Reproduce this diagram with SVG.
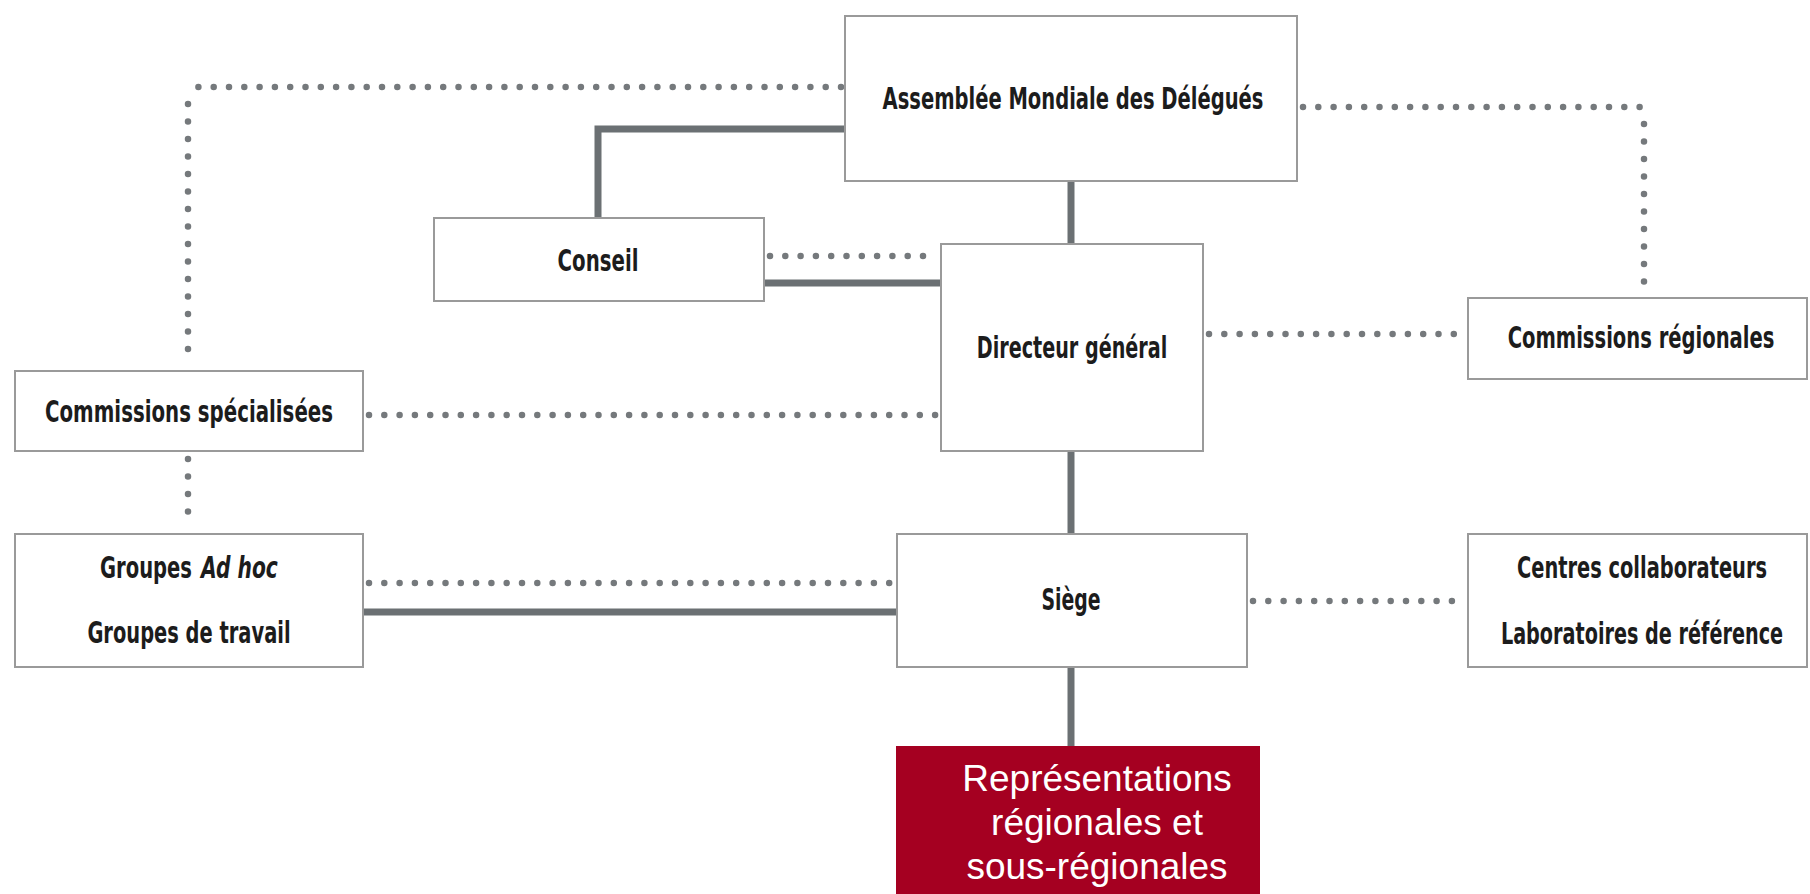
<svg xmlns="http://www.w3.org/2000/svg" width="1810" height="894" viewBox="0 0 1810 894">
<style>
.box{fill:#fff;stroke:#9a9a9a;stroke-width:2}
.lbl{font-family:"DejaVu Sans Condensed","Liberation Sans",sans-serif;font-stretch:condensed;font-weight:bold;font-size:30px;fill:#1c1c1c;text-anchor:middle}
.big{font-size:31px}
.st{text-anchor:start}
.solid{fill:none;stroke:#6b7073;stroke-width:7}
.dotH{fill:none;stroke:#75797c;stroke-width:6.5;stroke-linecap:round;stroke-dasharray:0 15.3}
.dotV{fill:none;stroke:#75797c;stroke-width:6.5;stroke-linecap:round;stroke-dasharray:0 17.5}
.red{fill:#a50021}
.rt{font-family:"Liberation Sans",Arial,sans-serif;font-size:37px;fill:#fff;text-anchor:middle}
</style>
<rect width="1810" height="894" fill="#fff"/>
<g id="connectors">
<path class="solid" d="M845,129 H598 V218"/>
<path class="solid" d="M1071,181 V244"/>
<path class="solid" d="M764,283 H941"/>
<path class="solid" d="M1071,451 V534"/>
<path class="solid" d="M363,612 H897"/>
<path class="solid" d="M1071,667 V746"/>
<path class="dotH" d="M841,87 H188"/>
<path class="dotV" d="M188,104 V362"/>
<path class="dotH" d="M1303,107 H1644"/>
<path class="dotV" d="M1644,124 V292"/>
<path class="dotH" d="M770,256 H937"/>
<path class="dotH" d="M1209,334 H1466"/>
<path class="dotH" d="M369,415 H937"/>
<path class="dotV" d="M188,459 V522"/>
<path class="dotH" d="M369,583 H893"/>
<path class="dotH" d="M1253,601 H1466"/>
</g>
<g id="assemblee">
<rect class="box" x="845" y="16" width="452" height="165"/>
<text class="lbl big" transform="translate(1073,109) scale(0.8,1)" textLength="476" lengthAdjust="spacingAndGlyphs">Assemblée Mondiale des Délégués</text>
</g>
<g id="conseil">
<rect class="box" x="434" y="218" width="330" height="83"/>
<text class="lbl big" transform="translate(598,271) scale(0.8,1)" textLength="101" lengthAdjust="spacingAndGlyphs">Conseil</text>
</g>
<g id="directeur">
<rect class="box" x="941" y="244" width="262" height="207"/>
<text class="lbl" transform="translate(1072,358) scale(0.8,1)" textLength="238" lengthAdjust="spacingAndGlyphs">Directeur général</text>
</g>
<g id="commissions-regionales">
<rect class="box" x="1468" y="298" width="339" height="81"/>
<text class="lbl" transform="translate(1641,348) scale(0.76,1)" textLength="351" lengthAdjust="spacingAndGlyphs">Commissions régionales</text>
</g>
<g id="commissions-specialisees">
<rect class="box" x="15" y="371" width="348" height="80"/>
<text class="lbl" transform="translate(189,422) scale(0.8,1)" textLength="360" lengthAdjust="spacingAndGlyphs">Commissions spécialisées</text>
</g>
<g id="groupes">
<rect class="box" x="15" y="534" width="348" height="133"/>
<text class="lbl st" transform="translate(100,578) scale(0.8,1)" textLength="115" lengthAdjust="spacingAndGlyphs">Groupes</text>
<text class="lbl st" transform="translate(201,578) scale(0.8,1)" font-style="italic" textLength="96" lengthAdjust="spacingAndGlyphs">Ad hoc</text>
<text class="lbl" transform="translate(189,643) scale(0.8,1)" textLength="254" lengthAdjust="spacingAndGlyphs">Groupes de travail</text>
</g>
<g id="siege">
<rect class="box" x="897" y="534" width="350" height="133"/>
<text class="lbl" transform="translate(1071,610) scale(0.8,1)" textLength="74" lengthAdjust="spacingAndGlyphs">Siège</text>
</g>
<g id="centres">
<rect class="box" x="1468" y="534" width="339" height="133"/>
<text class="lbl" transform="translate(1642,578) scale(0.76,1)" textLength="329" lengthAdjust="spacingAndGlyphs">Centres collaborateurs</text>
<text class="lbl" transform="translate(1642,644) scale(0.72,1)" textLength="392" lengthAdjust="spacingAndGlyphs">Laboratoires de référence</text>
</g>
<g id="representations">
<rect class="red" x="896" y="746" width="364" height="148"/>
<text class="rt" x="1097" y="791">Représentations</text>
<text class="rt" x="1097" y="835">régionales et</text>
<text class="rt" x="1097" y="879">sous-régionales</text>
</g>
</svg>
